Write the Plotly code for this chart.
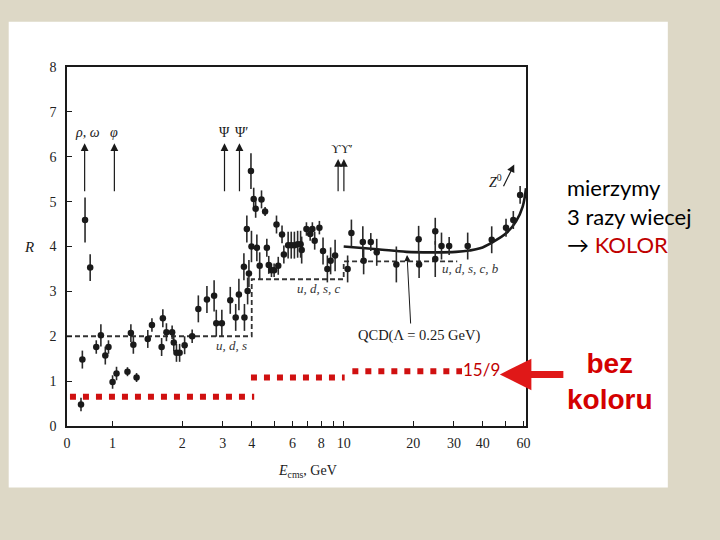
import math

import plotly.graph_objects as go

# measured R = sigma(e+e- -> hadrons) / sigma(e+e- -> mu+mu-)
energy = [
    0.73, 0.74, 0.76, 0.80, 0.85, 0.89, 0.93, 0.96, 1.00, 1.04,
    1.16, 1.20, 1.23, 1.27, 1.42, 1.48, 1.63, 1.65, 1.71, 1.81,
    1.84, 1.89, 1.95, 2.05, 2.21, 2.35, 2.56, 2.75, 2.81, 2.97,
    3.23, 3.41, 3.52, 3.72, 3.70, 3.81, 3.84, 3.89, 3.97, 3.99,
    4.08, 4.16, 4.21, 4.33, 4.41, 4.57, 4.65, 4.74, 4.87, 5.00,
    5.12, 5.21, 5.41, 5.51, 5.75, 5.93, 6.12, 6.32, 6.51, 6.58,
    6.90, 7.16, 7.32, 7.49, 7.85, 8.14, 8.50, 8.78, 9.18, 10.4,
    10.8, 12.1, 12.2, 13.1, 13.9, 16.9, 21.1, 21.2, 24.9, 24.9,
    26.5, 28.6, 34.4, 43.7, 50.4, 54.2, 58.0,
]
r_value = [
    0.48, 1.48, 4.59, 3.53, 1.76, 2.02, 1.57, 1.76, 0.98, 1.17,
    1.21, 2.07, 1.81, 1.08, 1.94, 2.25, 1.76, 2.40, 2.09, 2.09,
    1.86, 1.63, 1.63, 1.80, 2.00, 2.61, 2.82, 2.90, 2.29, 2.29,
    2.80, 2.42, 2.93, 2.42, 3.55, 4.39, 3.01, 3.40, 5.68, 4.00,
    5.06, 4.84, 3.97, 3.57, 5.05, 4.78, 3.97, 3.59, 3.47, 3.47,
    4.49, 3.57, 4.27, 3.82, 4.03, 4.03, 4.03, 4.05, 4.05, 3.92,
    4.39, 4.28, 4.39, 4.13, 4.42, 3.90, 3.50, 3.68, 3.80, 3.50,
    4.30, 4.10, 3.68, 4.10, 3.87, 3.60, 4.16, 3.60, 4.34, 3.72,
    4.01, 4.01, 4.01, 4.15, 4.42, 4.59, 5.15,
]
r_error = [
    0.15, 0.20, 0.50, 0.30, 0.15, 0.25, 0.20, 0.15, 0.15, 0.15,
    0.10, 0.20, 0.20, 0.10, 0.20, 0.15, 0.20, 0.20, 0.20, 0.15,
    0.20, 0.20, 0.20, 0.20, 0.15, 0.30, 0.30, 0.35, 0.30, 0.30,
    0.30, 0.30, 0.35, 0.30, 0.30, 0.30, 0.30, 0.30, 0.40, 0.35,
    0.25, 0.20, 0.30, 0.30, 0.20, 0.10, 0.20, 0.20, 0.15, 0.15,
    0.20, 0.20, 0.20, 0.20, 0.30, 0.30, 0.30, 0.30, 0.30, 0.30,
    0.15, 0.15, 0.15, 0.20, 0.15, 0.30, 0.30, 0.30, 0.35, 0.30,
    0.30, 0.35, 0.30, 0.20, 0.30, 0.40, 0.30, 0.30, 0.30, 0.40,
    0.30, 0.20, 0.30, 0.30, 0.20, 0.20, 0.20,
]

# quark-parton model steps (black dashed)
parton_e = [0.635, 4.0, 4.0, 10.0, 10.0, 31.0]
parton_r = [2.0, 2.0, 3.27, 3.27, 3.67, 3.67]
parton_labels = [("u, d, s", 3.27, 1.80), ("u, d, s, c", 7.8, 3.07), ("u, d, s, c, b", 35.3, 3.50)]

# QCD prediction (solid)
qcd_e = [10.0, 14.0, 18.7, 25.0, 30.6, 35.0, 38.9, 44.2, 50.6, 55.7, 59.5, 61.5]
qcd_r = [4.00, 3.94, 3.88, 3.87, 3.88, 3.91, 3.96, 4.10, 4.30, 4.56, 4.89, 5.30]

# expectation without colour (red dotted)
nocolor_e = [[0.654, 4.1], [3.97, 10.1], [10.9, 32.5]]
nocolor_r = [[0.65, 0.65], [1.08, 1.08], [1.22, 1.22]]

# resonances: label, energy, arrow top, label height, label energy
resonances = [
    ("<i>ρ</i>, <i>ω</i>", 0.757, 6.30, 6.54, 0.775),
    ("<i>φ</i>", 1.018, 6.30, 6.54, 1.018),
    ("Ψ", 3.05, 6.30, 6.54, 3.05),
    ("Ψ′", 3.54, 6.30, 6.54, 3.62),
]
upsilons = [9.46, 10.02]

x_ticks = [0.635, 1, 2, 3, 4, 6, 8, 10, 20, 30, 40, 60]
x_ticktext = ["0", "1", "2", "3", "4", "6", "8", "10", "20", "30", "40", "60"]
x_minor_ticks = [5, 7, 9, 50]

SERIF = "Liberation Serif, Times New Roman, serif"
SANS = "Lato, Noto Sans, sans-serif"
INK = "#1a1a1a"
RED = "#d01010"

lg = math.log10

fig = go.Figure()

for xs, ys in zip(nocolor_e, nocolor_r):
    fig.add_trace(go.Scatter(
        x=xs, y=ys, mode="lines",
        line={"color": RED, "width": 6, "dash": "6px,7px"},
        hoverinfo="skip",
    ))

fig.add_trace(go.Scatter(
    x=parton_e, y=parton_r, mode="lines",
    line={"color": "#333333", "width": 1.8, "dash": "5px,3px"},
    hoverinfo="skip",
))

fig.add_trace(go.Scatter(
    x=qcd_e, y=qcd_r, mode="lines",
    line={"color": INK, "width": 2.6, "shape": "spline"},
    hoverinfo="skip",
))

fig.add_trace(go.Scatter(
    x=energy, y=r_value, mode="markers",
    marker={"color": INK, "size": 6.5},
    error_y={"type": "data", "array": r_error, "color": "#2a2a2a", "thickness": 1.6, "width": 0},
))


def label(x, y, text, size, color=INK, family=SERIF, ref="data", **kw):
    ref_x, ref_y = ("x", "y") if ref == "data" else ("paper", "paper")
    return dict(
        x=x, y=y, xref=ref_x, yref=ref_y, text=text, showarrow=False,
        xanchor=kw.pop("xanchor", "center"), yanchor="middle",
        font={"family": family, "size": size, "color": color}, **kw,
    )


def arrow(x, y, ax, ay, width=1.2, size=1.3):
    return dict(
        x=x, y=y, ax=ax, ay=ay, xref="x", yref="y", axref="x", ayref="y", text="",
        showarrow=True, arrowhead=2, arrowsize=size, arrowwidth=width, arrowcolor=INK,
    )


annotations = []
for text, e, top, label_y, label_e in resonances:
    annotations.append(arrow(lg(e), top, lg(e), 5.2))
    annotations.append(label(lg(label_e), label_y, text, 14))
for e in upsilons:
    annotations.append(arrow(lg(e), 5.95, lg(e), 5.2))
annotations.append(label(lg(9.8), 6.18, "ϒϒ′", 13))

for text, e, r in parton_labels:
    annotations.append(label(lg(e), r, f"<i>{text}</i>", 13, color="#333333"))

annotations += [
    arrow(lg(18.8), 3.81, lg(19.5), 2.25, width=1, size=1.2),
    label(lg(21.1), 2.02, "QCD(Λ = 0.25 GeV)", 14.5),
    arrow(lg(54.7), 5.83, lg(48.8), 5.31),
    label(lg(45.5), 5.45, "<i>Z</i><sup>0</sup>", 14),
    label(-0.082, 0.499, "<i>R</i>", 15, ref="paper"),
    label(0.524, -0.127, "<i>E</i><sub>cms</sub>, GeV", 14, ref="paper"),
    # slide texts
    label(1.086, 0.5855, "mierzymy<br>3 razy wiecej<br>→ <span style='color:#c00000'>KOLOR</span>",
          22, color="#000000", family=SANS, ref="paper", xanchor="left", align="left"),
    label(0.9037, 0.158, "15/9", 17, color="#c00000", family=SANS, ref="paper"),
    dict(x=lg(47.4), y=1.15, xref="x", yref="y", ax=65, ay=0, text="", showarrow=True,
         arrowhead=2, arrowsize=0.9, arrowwidth=7, arrowcolor="#e01818"),
    label(1.183, 0.1236, "<b>bez<br>koloru</b>", 28, color="#d40000",
          family="Liberation Sans, Arial, sans-serif", ref="paper"),
]

axis_common = dict(
    showline=True, linecolor=INK, linewidth=1.6, mirror=True,
    ticks="inside", ticklen=5, tickcolor=INK, showgrid=False, zeroline=False,
    tickfont={"family": SERIF, "size": 14, "color": "#222222"},
)

fig.update_layout(
    width=720, height=540,
    margin={"l": 67, "r": 194, "t": 67, "b": 114, "pad": 0, "autoexpand": False},
    paper_bgcolor="#ddd8c6", plot_bgcolor="#ffffff",
    showlegend=False,
    xaxis=dict(
        type="log", range=[lg(0.635), lg(61.5)],
        tickvals=x_ticks, ticktext=x_ticktext, ticklabelstandoff=3,
        minor={"tickvals": x_minor_ticks, "ticks": "inside", "ticklen": 5,
               "tickcolor": INK, "showgrid": False},
        **axis_common,
    ),
    yaxis=dict(
        range=[0, 8], tickvals=list(range(9)), ticklabelstandoff=6, **axis_common,
    ),
    shapes=[dict(
        type="rect", xref="paper", yref="paper", x0=-0.127, x1=1.309, y0=-0.171, y1=1.126,
        fillcolor="#ffffff", line={"width": 0}, layer="below",
    )],
    annotations=annotations,
)

fig.write_html(
    "out.html",
    config={"displayModeBar": False},
    post_script="document.body.style.margin = '0';",
)
